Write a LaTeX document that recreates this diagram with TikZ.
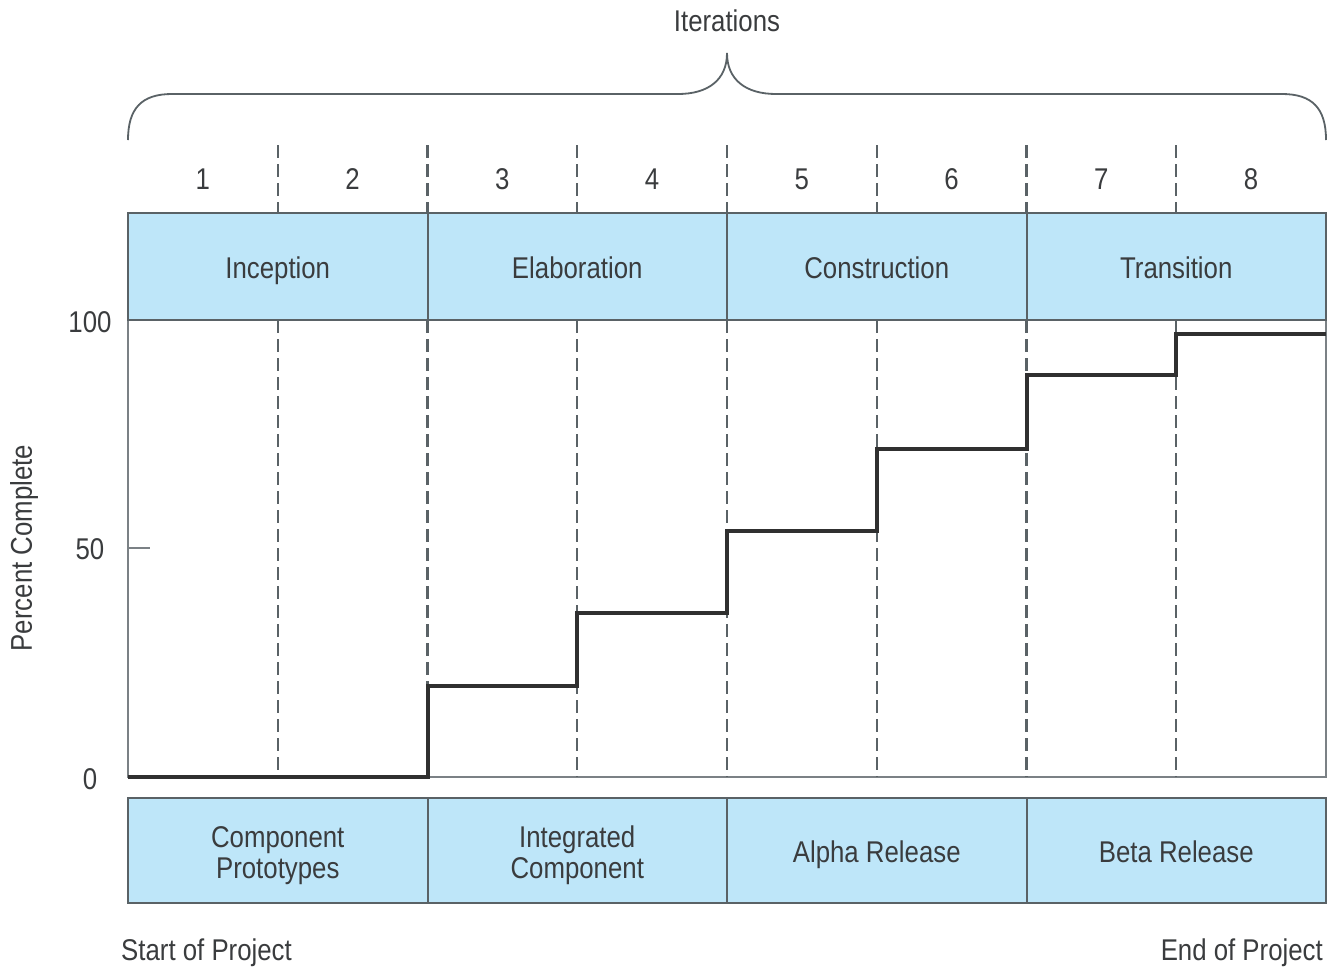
\documentclass[tikz,border=0pt]{standalone}
\usepackage{fontspec}
\setmainfont{Liberation Sans}[FakeStretch=0.86]
\definecolor{bandblue}{RGB}{190,230,249}
\definecolor{inkgray}{RGB}{58,60,62}
\definecolor{framegray}{RGB}{90,98,102}
\definecolor{stepgray}{RGB}{48,48,48}
\begin{document}
\begin{tikzpicture}[x=1pt,y=-1pt,
  lbl/.style={text=inkgray, font=\fontsize{30}{32}\selectfont, inner sep=0pt, anchor=base},
  cell/.style={draw=framegray, line width=2pt, fill=bandblue, minimum width=299.5pt, minimum height=#1, inner sep=0pt},
  guide/.style={draw=framegray, line width=2.2pt, dash pattern=on 13pt off 6pt},
  frame/.style={draw=framegray!80, line width=2pt},
  stepline/.style={draw=stepgray, line width=4pt, line join=miter},
  bracestyle/.style={draw=framegray, line width=1.8pt}]
\useasboundingbox (0,0) rectangle (1329,967);

% brace over the iterations
\coordinate (bl) at (128,140);
\coordinate (br) at (1326,140);
\coordinate (btip) at (727,53);
\draw[bracestyle] (bl) .. controls (128,108) and (142,94) .. (172,94)
  -- (678,94) .. controls (708,94) and (727,80) .. (btip)
  .. controls (727,80) and (746,94) .. (776,94)
  -- (1282,94) .. controls (1312,94) and (1326,108) .. (br);
\node[lbl] (iter) at (727,31) {Iterations};

% iteration numbers and their separators above the phase band
\foreach \i in {1,...,8} {
  \node[lbl] (n\i) at ({128+(\i-0.5)*149.75},189) {\i};
}
\foreach \i in {1,...,7} {
  \coordinate (ta\i) at ({128+\i*149.75},145);
  \coordinate (tb\i) at ({128+\i*149.75},213);
  \draw[guide] (ta\i) -- (tb\i);
}

% chart frame and iteration guides
\coordinate (o) at (128,777);
\coordinate (ox) at (1326,777);
\coordinate (oy) at (128,320);
\coordinate (oyr) at (1326,320);
\draw[frame] (oy) -- (o) -- (ox) -- (oyr);
\foreach \i in {1,...,7} {
  \coordinate (ga\i) at ({128+\i*149.75},320);
  \coordinate (gb\i) at ({128+\i*149.75},777);
  \draw[guide] (ga\i) -- (gb\i);
}
\coordinate (t50) at (128,548);
\coordinate (t50e) at (150,548);
\draw[frame] (t50) -- (t50e);

% phase band
\node[cell=107pt] (inception)    at (277.75,266.5) {};
\node[cell=107pt] (elaboration)  at (577.25,266.5) {};
\node[cell=107pt] (construction) at (876.75,266.5) {};
\node[cell=107pt] (transition)   at (1176.25,266.5) {};
\node[lbl] (linception)    at (277.75,278) {Inception};
\node[lbl] (lelaboration)  at (577.25,278) {Elaboration};
\node[lbl] (lconstruction) at (876.75,278) {Construction};
\node[lbl] (ltransition)   at (1176.25,278) {Transition};

% milestone band
\node[cell=105pt] (proto) at (277.75,850.5) {};
\node[cell=105pt] (integ) at (577.25,850.5) {};
\node[cell=105pt] (alpha) at (876.75,850.5) {};
\node[cell=105pt] (beta)  at (1176.25,850.5) {};
\node[lbl] (proto1) at (277.75,847) {Component};
\node[lbl] (proto2) at (277.75,878) {Prototypes};
\node[lbl] (integ1) at (577.25,847) {Integrated};
\node[lbl] (integ2) at (577.25,878) {Component};
\node[lbl] (lalpha) at (876.75,862) {Alpha Release};
\node[lbl] (lbeta)  at (1176.25,862) {Beta Release};

% progress curve
\draw[stepline] (o) -- (427.5,777) -- (427.5,686) -- (577.25,686) -- (577.25,613)
  -- (727,613) -- (727,531) -- (876.75,531) -- (876.75,449) -- (1026.5,449)
  -- (1026.5,375) -- (1176.25,375) -- (1176.25,334) -- (1326,334);

% axis labels
\node[lbl] (y100) at (90,332) {100};
\node[lbl] (y50)  at (90,559) {50};
\node[lbl] (y0)   at (90,789) {0};
\node[lbl, rotate=90, anchor=center] (ytitle) at (24,548) {Percent Complete};
\node[lbl, anchor=base west] (start) at (121,960) {Start of Project};
\node[lbl, anchor=base east] (finish) at (1323,960) {End of Project};
\end{tikzpicture}
\end{document}
